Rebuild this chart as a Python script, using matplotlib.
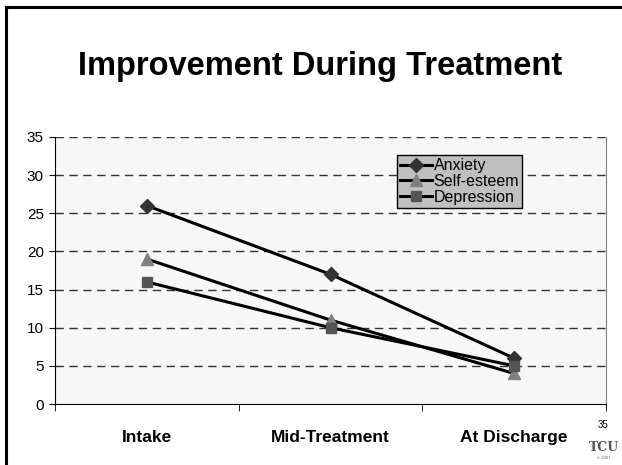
import numpy as np
import matplotlib.pyplot as plt
from matplotlib.lines import Line2D

plt.rcParams['font.family'] = ['Liberation Sans', 'DejaVu Sans']

# data
stages = ['Intake', 'Mid-Treatment', 'At Discharge']
anxiety = [26, 17, 6]
self_esteem = [19, 11, 4]
depression = [16, 10, 5]
y_ticks = [0, 5, 10, 15, 20, 25, 30, 35]

W, H = 622, 465
fig = plt.figure(figsize=(W / 100, H / 100), dpi=100)
fig.patch.set_facecolor('white')

# slide border (left and top only)
fig.add_artist(Line2D([6 / W, 6 / W], [0, 1 - 7 / H], transform=fig.transFigure,
                      color='black', linewidth=2.2))
fig.add_artist(Line2D([6 / W, 1], [1 - 7 / H, 1 - 7 / H], transform=fig.transFigure,
                      color='black', linewidth=2.2))

fig.text(320 / W, 1 - 67 / H, 'Improvement During Treatment', ha='center', va='center',
         fontsize=23.5, fontweight='bold')

ax = fig.add_axes([55 / W, 61 / H, 551 / W, 267 / H])
ax.set_facecolor('#f7f7f7')

x = np.arange(len(stages))
ax.plot(x, anxiety, color='black', linewidth=2.2, marker='D', markersize=7,
        markerfacecolor='#333333', markeredgecolor='#333333', label='Anxiety', zorder=3)
ax.plot(x, self_esteem, color='black', linewidth=2.2, marker='^', markersize=8,
        markerfacecolor='#808080', markeredgecolor='#808080', label='Self-esteem', zorder=3)
ax.plot(x, depression, color='black', linewidth=2.2, marker='s', markersize=7,
        markerfacecolor='#555555', markeredgecolor='#555555', label='Depression', zorder=3)

ax.set_xlim(-0.5, 2.5)
ax.set_ylim(0, 35)
ax.set_yticks(y_ticks)
ax.tick_params(axis='y', labelsize=11, length=4, pad=4)
ax.set_xticks(x)
ax.set_xticklabels(stages, fontsize=12.5, fontweight='bold')
ax.tick_params(axis='x', which='major', length=0, pad=19)
ax.set_xticks([-0.5, 0.5, 1.5, 2.5], minor=True)
ax.tick_params(axis='x', which='minor', length=5, direction='out')

# dashed grid lines
for yv in y_ticks[1:]:
    ax.axhline(yv, color='#333333', linewidth=1, linestyle=(0, (6, 4)), zorder=1)

ax.spines['top'].set_visible(False)
ax.spines['right'].set_color('#808080')
ax.spines['left'].set_color('black')
ax.spines['bottom'].set_color('black')

leg = ax.legend(loc='upper left', bbox_to_anchor=(397 / W, 1 - 155 / H),
                bbox_transform=fig.transFigure, fontsize=11.5, frameon=True,
                fancybox=False, handlelength=2.0, handletextpad=0.1,
                borderpad=0.2, labelspacing=0.05, borderaxespad=0)
leg.get_frame().set_facecolor('#c0c0c0')
leg.get_frame().set_edgecolor('black')
leg.get_frame().set_alpha(1)

# slide number and logo
fig.text(603 / W, 1 - 425 / H, '35', ha='center', va='center', fontsize=7)
fig.text(604 / W, 1 - 447 / H, 'TCU', ha='center', va='center', fontsize=9,
         fontweight='bold', family='DejaVu Serif', color='#555555')
fig.text(604 / W, 1 - 458 / H, '\u00a9 2007', ha='center', va='center', fontsize=3,
         color='#555555')

fig.savefig('out.png', dpi=100)
